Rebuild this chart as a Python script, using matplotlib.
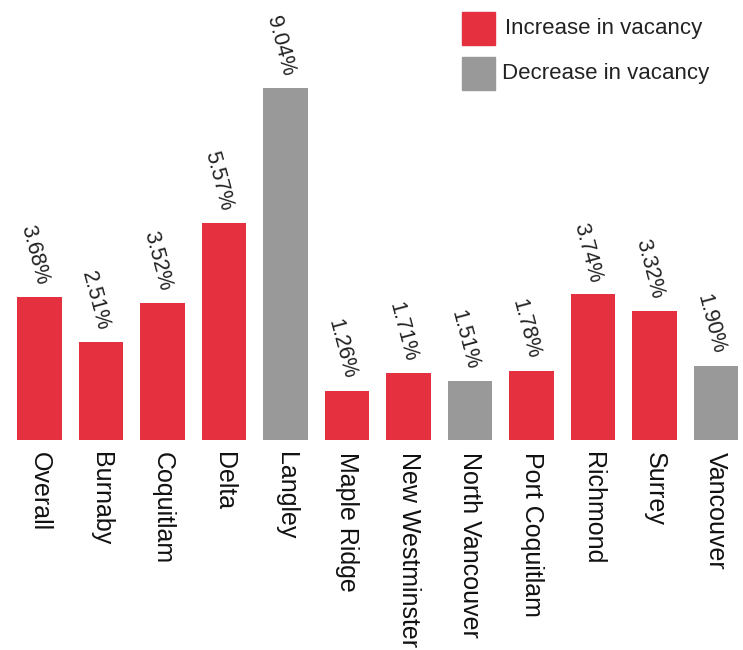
import matplotlib
matplotlib.use("Agg")
import matplotlib.pyplot as plt
from matplotlib.patches import Rectangle

categories = ["Overall", "Burnaby", "Coquitlam", "Delta", "Langley", "Maple Ridge",
              "New Westminster", "North Vancouver", "Port Coquitlam", "Richmond",
              "Surrey", "Vancouver"]
values = [3.68, 2.51, 3.52, 5.57, 9.04, 1.26, 1.71, 1.51, 1.78, 3.74, 3.32, 1.90]
direction = ["Increase", "Increase", "Increase", "Increase", "Decrease", "Increase",
             "Increase", "Decrease", "Increase", "Increase", "Increase", "Decrease"]
labels = [f"{v:.2f}%" for v in values]
legend_labels = ["Increase in vacancy", "Decrease in vacancy"]

RED = "#E4303F"
GRAY = "#999999"
colors = [RED if d == "Increase" else GRAY for d in direction]

plt.rcParams['font.family'] = ['Liberation Sans', 'DejaVu Sans']

fig = plt.figure(figsize=(7.43, 6.5), dpi=100)
ax = fig.add_axes([0, 210 / 650, 1, 440 / 650])

x = list(range(len(categories)))
ax.bar(x, values, width=0.73, color=colors)

for xi, v, lab in zip(x, values, labels):
    ax.annotate(lab, (xi, v), xytext=(-4, 7), textcoords="offset points",
                rotation=-75, ha="center", va="bottom", fontsize=15.5, color="#222222")

ax.set_xlim(-39.5 / 61.5, (743 - 39.5) / 61.5)
ax.set_ylim(0, 440 / 38.94)
ax.set_xticks(x)
ax.set_xticklabels(categories, rotation=270, fontsize=18, color="#111111")
ax.tick_params(axis="x", length=0, pad=9)
ax.set_yticks([])
for s in ax.spines.values():
    s.set_visible(False)

# legend (drawn in figure pixel coordinates)
W, H = 743, 650
for (col, lab, ytop, tx) in [(RED, legend_labels[0], 12, 505), (GRAY, legend_labels[1], 57, 502)]:
    fig.add_artist(Rectangle((462 / W, 1 - (ytop + 33) / H), 33 / W, 33 / H,
                             transform=fig.transFigure, color=col))
    fig.text(tx / W, 1 - (ytop + 16.5) / H, lab, ha="left", va="center",
             fontsize=16, color="#222222")

fig.savefig("out.png", dpi=100)
